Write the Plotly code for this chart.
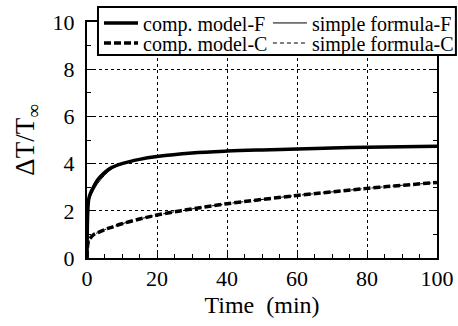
import plotly.graph_objects as go

t = [0, 0.2, 0.5, 1, 2, 3, 5, 7, 10, 15, 20, 30, 40, 50, 60, 70, 80, 90, 100]
comp_F = [0, 1.9, 2.5, 2.75, 3.05, 3.3, 3.62, 3.83, 4.0, 4.18, 4.3, 4.45, 4.53, 4.58, 4.62, 4.66, 4.69, 4.71, 4.73]
simple_F = [0, 1.7, 2.35, 2.6, 2.9, 3.15, 3.5, 3.77, 3.97, 4.17, 4.3, 4.45, 4.53, 4.58, 4.62, 4.66, 4.69, 4.71, 4.73]
comp_C = [0, 0.55, 0.75, 0.85, 1.0, 1.07, 1.2, 1.3, 1.45, 1.65, 1.82, 2.08, 2.3, 2.48, 2.65, 2.8, 2.95, 3.08, 3.2]
simple_C = [0, 0.5, 0.72, 0.84, 1.0, 1.07, 1.2, 1.3, 1.45, 1.65, 1.82, 2.08, 2.3, 2.48, 2.65, 2.8, 2.95, 3.08, 3.2]

names = ["comp. model-F", "simple formula-F", "comp. model-C", "simple formula-C"]

font = "Liberation Serif"

fig = go.Figure()
fig.add_trace(go.Scatter(x=t, y=comp_F, mode="lines", name=names[0], legend="legend",
                         line=dict(color="black", width=3.5, shape="spline")))
fig.add_trace(go.Scatter(x=t, y=simple_F, mode="lines", name=names[1], legend="legend2",
                         line=dict(color="black", width=1, shape="spline")))
fig.add_trace(go.Scatter(x=t, y=comp_C, mode="lines", name=names[2], legend="legend3",
                         line=dict(color="black", width=3.5, dash="7px,3px", shape="spline")))
fig.add_trace(go.Scatter(x=t, y=simple_C, mode="lines", name=names[3], legend="legend4",
                         line=dict(color="black", width=1, dash="4px,3px", shape="spline")))

axis_common = dict(
    showline=True, linecolor="black", linewidth=2, mirror="ticks",
    ticks="inside", ticklen=6, tickcolor="black", tickwidth=1,
    showgrid=True, gridcolor="black", gridwidth=1, griddash="dot",
    zeroline=False, tickfont=dict(family=font, size=22, color="black"),
)
fig.update_xaxes(range=[0, 100], dtick=20, tick0=0,
                 minor=dict(dtick=5, ticks="inside", ticklen=4, tickcolor="black", showgrid=False),
                 title=dict(text="Time  (min)", font=dict(family=font, size=24, color="black"), standoff=6),
                 **axis_common)
fig.update_yaxes(range=[0, 10], dtick=2, tick0=0, ticklabelstandoff=6,
                 minor=dict(dtick=1, ticks="inside", ticklen=4, tickcolor="black", showgrid=False),
                 title=dict(text="ΔT/T<sub>∞</sub>", font=dict(family=font, size=27, color="black"), standoff=10),
                 **axis_common)

# legend frame
fig.add_shape(type="rect", xref="paper", yref="paper",
              x0=0.0314, x1=1.054, y0=0.860, y1=1.064,
              line=dict(color="black", width=2), fillcolor="white", layer="above")

leg_common = dict(bgcolor="rgba(0,0,0,0)", borderwidth=0, xanchor="left", yanchor="middle",
                  font=dict(family=font, size=20, color="black"), itemwidth=34)
fig.update_layout(
    width=458, height=326,
    margin=dict(l=87, r=21, t=22, b=68, autoexpand=False),
    paper_bgcolor="white", plot_bgcolor="white",
    font=dict(family=font, color="black"),
    showlegend=True,
    legend=dict(x=0.0343, y=0.996, **leg_common),
    legend2=dict(x=0.517, y=0.996, **leg_common),
    legend3=dict(x=0.0343, y=0.911, **leg_common),
    legend4=dict(x=0.517, y=0.911, **leg_common),
)

fig.write_html("out.html")
